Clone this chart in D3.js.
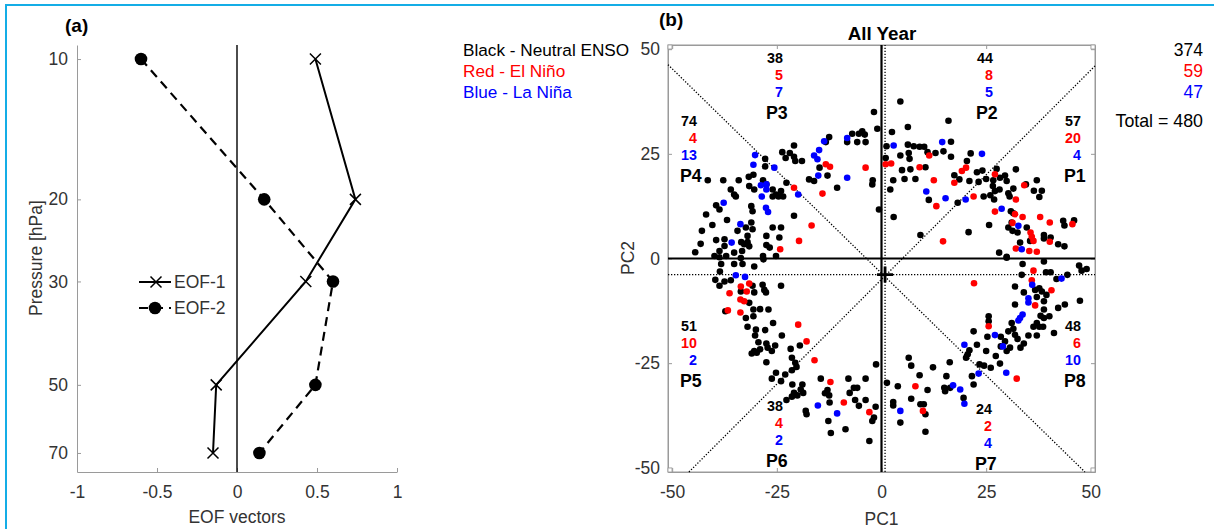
<!DOCTYPE html>
<html>
<head>
<meta charset="utf-8">
<script src="https://cdn.jsdelivr.net/npm/d3@7"></script>
<style>
body { margin: 0; background: #fff; }
text { font-family: "Liberation Sans", Arial, sans-serif; }
</style>
</head>
<body>
<svg id="fig" width="1214" height="529"></svg>
<script>
// ---- panel (a) data: EOF vectors against pressure
const levels = [10, 20, 30, 50, 70];
const eof1 = [0.49, 0.74, 0.43, -0.13, -0.15];
const eof2 = [-0.6, 0.17, 0.6, 0.49, 0.14];
const eofTicks = [-1, -0.5, 0, 0.5, 1];

// ---- panel (b) data: PC1/PC2 scatter
const neutral = [
  [-1.8,35.0],[-1.0,31.0],[-4.6,30.4],[-4.0,29.6],[-5.4,29.8],[-5.8,27.8],[-3.8,27.8],[-7.0,29.8],[-8.2,27.8],
  [-12.5,29.0],[-13.3,27.8],[-14.8,21.7],[-12.9,19.8],[-17.3,18.9],[-16.1,18.5],[-10.6,16.9],[-2.1,18.7],[-2.2,17.7],[-0.6,11.7],
  [-20.9,27.0],[-23.7,25.4],[-21.9,25.2],[-22.9,24.0],[-20.9,24.3],[-20.6,23.3],[-19.0,23.3],
  [-27.8,23.8],[-27.8,22.0],[-31.7,19.5],[-30.6,20.0],[-34.1,18.7],[-37.8,18.7],[-41.5,18.7],[-36.0,16.5],[-35.2,15.3],[-34.8,14.8],
  [-31.6,17.3],[-30.4,16.5],[-28.3,18.7],[-27.5,17.7],[-26.0,16.5],[-25.2,15.3],[-24.0,16.1],[-26.0,14.8],[-24.6,14.8],[-23.5,14.8],[-22.7,18.1],
  [-39.5,12.7],[-38.7,11.7],[-41.9,10.5],[-31.1,12.5],[-30.8,11.3],[-20.9,10.2],
  [-31.1,8.6],[-32.4,7.4],[-34.4,6.6],[-30.8,7.0],[-32.0,5.4],[-42.9,6.6],
  [-39.5,4.4],[-37.5,4.6],[-37.5,3.0],[-38.7,1.8],[-33.5,3.9],[-32.8,3.4],[-32.0,3.9],[-31.6,2.9],[-33.3,1.8],[-35.2,1.4],
  [-39.9,0.6],[-37.1,0.6],[-27.5,5.4],[-26.0,7.4],[-24.0,7.4],[-24.4,5.0],[-27.5,3.2],[-26.7,2.6],[-28.3,0.6],[-25.2,0.6],
  [-36.9,9.2],[-40.4,8.0],[-43.2,3.5],[-44.5,1.5],
  [4.5,37.5],[16.0,32.9],[2.5,30.2],[6.3,31.4],[1.2,26.8],[1.0,24.0],
  [6.3,27.2],[7.7,26.8],[9.1,26.7],[10.2,26.7],[11.0,25.4],[12.9,25.2],[14.8,25.6],[16.6,27.9],[16.6,24.3],
  [4.5,24.6],[6.5,25.2],[6.7,23.8],[4.9,21.1],[6.9,21.3],[8.1,19.0],[5.5,19.0],[2.8,18.7],[2.1,16.5],
  [10.5,21.8],[11.3,14.0],[2.9,9.9],[9.3,5.6],[20.8,6.3],
  [17.4,19.9],[18.6,18.9],[20.4,23.3],[21.3,25.1],[18.2,13.3],
  [22.8,20.6],[24.1,21.0],[21.0,18.5],[23.2,18.3],[25.0,19.0],[26.0,15.1],[24.4,14.8],[26.9,14.1],
  [27.5,21.4],[28.3,19.3],[26.7,18.7],[26.6,17.3],[27.1,16.1],[28.2,16.5],[29.5,19.8],[29.9,18.5],[30.3,15.6],[30.6,14.8],[32.1,21.3],[31.5,16.7],
  [25.7,8.0],[34.5,17.7],[37.1,18.7],[36.4,16.2],[38.3,16.2],[37.7,14.7],
  [30.9,11.3],[31.5,10.8],[31.1,8.6],[30.3,7.4],[31.3,6.6],[32.5,6.2],[34.7,7.4],[35.5,4.2],[33.1,3.8],
  [38.8,5.6],[38.8,4.8],[40.4,5.0],[42.2,3.4],[43.7,2.9],[43.4,9.0],[43.7,7.9],[46.0,9.1],[28.1,1.4],[29.9,0.4],
  [-38.7,0.3],[-33.6,0.1],[-28.2,-0.2],[-35.2,-1.3],[-38.3,-1.3],[-33.2,-1.3],[-30.4,-1.9],
  [-38.6,-3.1],[-39.7,-5.1],[-38.7,-6.5],[-37.5,-5.5],[-36.0,-5.2],[-33.6,-7.9],
  [-30.8,-6.5],[-30.4,-8.1],[-28.4,-6.3],[-28.0,-7.5],[-27.6,-8.1],[-24.0,-6.5],
  [-37.3,-12.6],[-31.6,-10.6],[-30.6,-12.2],[-29.0,-12.1],[-27.0,-12.2],[-32.4,-14.2],[-30.6,-13.8],[-32.0,-16.3],
  [-30.0,-17.0],[-30.2,-18.4],[-27.8,-17.1],[-25.9,-15.4],[-23.8,-18.4],[-30.4,-22.1],[-31.0,-22.7],[-29.8,-22.5],[-29.0,-21.7],
  [-29.4,-20.0],[-27.5,-20.3],[-27.2,-21.3],[-25.4,-20.8],[-26.2,-22.1],[-27.5,-24.8],
  [-21.7,-21.6],[-21.4,-23.7],[-19.5,-20.8],[-20.6,-24.9],[-20.3,-25.9],[-21.4,-26.7],[-23.0,-27.7],[-25.2,-27.3],[-26.2,-28.7],
  [-24.0,-29.3],[-21.3,-30.1],[-18.9,-30.1],[-19.3,-31.3],[-20.9,-32.1],[-21.4,-33.0],[-22.7,-33.8],[-20.1,-32.7],[-18.7,-32.1],
  [-14.5,-28.7],[-12.9,-31.4],[-13.5,-32.2],[-12.5,-32.7],[-12.4,-34.4],[-18.1,-36.4],[-17.9,-37.2],[-12.7,-38.8],[-12.1,-41.7],
  [-8.6,-40.8],[-7.9,-28.7],[-6.6,-30.9],[-5.8,-30.9],[-7.6,-32.1],[-3.8,-28.7],[-6.3,-33.8],[-3.8,-33.8],[-5.4,-35.2],
  [-1.4,-35.4],[-1.8,-38.0],[-2.2,-38.8],[-2.9,-43.6],[-1.3,-25.3],
  [29.9,0.2],[33.7,-1.3],[33.5,-3.9],[38.8,-0.7],[39.3,-3.3],[40.4,-3.3],[41.8,-4.9],[44.4,-3.9],[47.2,-1.7],[47.8,-2.9],[49.0,-2.5],
  [31.9,-6.7],[34.0,-8.1],[36.7,-7.5],[37.7,-7.1],[38.3,-7.9],[39.4,-8.7],[37.1,-9.2],[38.8,-10.2],[47.4,-10.1],[43.8,-11.0],[42.2,-11.8],
  [38.8,-12.2],[38.0,-13.7],[38.8,-14.2],[40.1,-13.8],[37.1,-15.4],[36.3,-16.3],[37.7,-16.3],[38.6,-16.3],[35.1,-18.4],[37.1,-18.4],[41.2,-17.8],
  [31.9,-11.0],[31.1,-15.4],[31.5,-16.8],[30.3,-17.4],[31.9,-18.2],[32.5,-19.2],[34.0,-20.3],[33.2,-21.3],[30.7,-21.3],[29.9,-22.1],
  [25.6,-13.8],[25.6,-15.0],[25.3,-18.7],[28.5,-18.7],[28.5,-21.0],[29.5,-19.8],[27.3,-23.3],[25.0,-22.1],[28.3,-25.1],[26.1,-26.1],[24.5,-25.6],
  [22.0,-17.4],[21.0,-21.9],[20.6,-22.9],[22.8,-20.6],[20.2,-23.7],[23.4,-25.3],[22.0,-30.1],[21.6,-28.1],
  [16.3,-24.8],[15.5,-28.1],[15.0,-30.9],[15.2,-31.7],[16.4,-30.9],[12.3,-26.0],[11.0,-31.4],[9.1,-27.9],[7.1,-25.6],[6.5,-23.7],
  [7.1,-33.5],[9.3,-34.8],[10.1,-34.8],[10.5,-37.2],[10.5,-41.4],[4.5,-39.2],[2.8,-35.1],[2.8,-34.3],[3.9,-30.5],[1.3,-29.7],[19.6,-33.3]
];
const elNino = [
  [-13.3,22.5],[-12.3,21.9],[-14.1,15.5],[-3.8,21.7],[-20.9,16.9],[-24.2,2.2],[-19.7,4.2],[-16.7,7.9],
  [1.0,22.5],[2.3,22.7],[11.4,24.6],[9.1,21.8],[12.5,18.7],[13.1,12.5],[14.7,4.1],[19.2,20.9],[20.2,21.7],[17.4,18.1],
  [22.0,14.8],[27.1,20.1],[27.1,11.2],[34.1,17.5],[32.1,14.1],[31.9,10.6],[33.7,9.9],[31.3,8.5],[35.6,6.2],[35.9,5.2],
  [36.3,4.2],[32.1,2.4],[35.3,1.8],[37.1,1.6],[37.9,9.9],[40.2,8.6],[45.6,8.2],[40.2,4.0],
  [-33.6,-6.7],[-31.6,-6.0],[-32.2,-7.9],[-36.3,-8.3],[-33.7,-9.8],[-32.8,-10.2],[-36.7,-12.4],[-33.7,-12.9],
  [-19.9,-15.8],[-17.9,-19.8],[-16.0,-24.3],[-12.2,-29.5],[-9.0,-34.4],[-2.9,-36.7],
  [36.3,-2.9],[35.9,-5.2],[40.6,-7.6],[22.1,-5.9],[36.7,-11.2],[25.6,-16.2],[32.3,-28.7],[8.1,-30.5],[9.9,-36.4]
];
const laNina = [
  [-8.2,28.8],[-13.7,28.0],[-14.9,25.9],[-16.1,24.6],[-15.3,23.7],[-15.1,19.8],[-8.2,19.3],[-30.2,24.7],[-30.6,22.4],
  [-25.6,21.7],[-28.8,17.5],[-27.5,17.7],[-27.5,16.5],[-28.6,14.8],[-19.9,15.3],[-37.7,13.3],[-27.6,12.1],[-27.1,11.1],
  [-33.7,8.2],[-35.8,3.8],
  [2.9,27.0],[14.5,27.8],[10.7,16.0],[15.3,14.4],[24.0,25.0],[20.1,14.1],[28.7,11.9],[32.7,7.8],[33.5,2.2],
  [-34.8,-4.0],[-32.6,-4.4],[-15.2,-35.1],[-10.6,-37.0],
  [43.0,-4.8],[36.0,-6.3],[35.1,-9.5],[35.1,-10.5],[33.7,-13.4],[33.1,-14.2],[32.7,-14.8],[27.1,-18.3],[29.0,-21.0],
  [19.8,-20.6],[23.2,-27.5],[29.8,-27.3],[17.1,-30.3],[18.8,-31.3],[19.8,-34.7],[4.5,-36.4]
];
const pcTicks = [-50, -25, 0, 25, 50];
const pcCenter = [0.85, -3.85];
const diagA = [[-51, 46.3], [48.6, -51]];
const diagB = [[-46, -51], [51, 46]];

// sector counts
const sectors = ['P1', 'P2', 'P3', 'P4', 'P5', 'P6', 'P7', 'P8'];
const countNeutral = [57, 44, 38, 74, 51, 38, 24, 48];
const countNino = [20, 8, 5, 4, 10, 4, 2, 6];
const countNina = [4, 5, 7, 13, 2, 2, 4, 10];
const totals = [374, 59, 47];
const totalAll = 480;

// where each sector's text block sits (right edge of numbers, first baseline)
const sectorAnchor = [[1081, 126], [993, 63], [783, 63], [697, 126], [697, 331], [783, 411], [992, 414], [1081, 331]];

const axisGray = '#9a9a9a';
const textGray = '#333';
const labelSize = 17.5;
const svg = d3.select('#fig');

// figure frame
svg.append('rect')
  .attr('x', 6).attr('y', 5)
  .attr('width', 1230).attr('height', 540)
  .attr('fill', 'none')
  .attr('stroke', '#14ade6')
  .attr('stroke-width', 2);

let styleAxis = function(g) {
  g.selectAll('path, line').attr('stroke', axisGray);
  g.selectAll('text').attr('font-size', labelSize).attr('fill', textGray)
    .style('font-family', '"Liberation Sans", Arial, sans-serif');
};

// ===== panel (a)
const xA = d3.scaleLinear().domain([-1, 1]).range([77, 397]);
const yA = d3.scaleLog().domain([9.33, 76.9]).range([45, 472]);
const gA = svg.append('g');

gA.append('g')
  .attr('transform', 'translate(0,472)')
  .call(d3.axisBottom(xA).tickValues(eofTicks).tickFormat(d => String(d))
    .tickSizeInner(-4).tickSizeOuter(0).tickPadding(14))
  .call(styleAxis);

gA.append('g')
  .attr('transform', 'translate(77,0)')
  .call(d3.axisLeft(yA).tickValues(levels).tickFormat(d => String(d))
    .tickSizeInner(-4).tickSizeOuter(0).tickPadding(9))
  .call(styleAxis);

gA.append('line')
  .attr('x1', xA(0)).attr('x2', xA(0))
  .attr('y1', 45).attr('y2', 472)
  .attr('stroke', '#000').attr('stroke-width', 1.4);

const eofLine = d3.line().x(d => xA(d[0])).y(d => yA(d[1]));
const eof1Pts = eof1.map((v, i) => [v, levels[i]]);
const eof2Pts = eof2.map((v, i) => [v, levels[i]]);

gA.append('path').attr('d', eofLine(eof2Pts))
  .attr('fill', 'none').attr('stroke', '#000').attr('stroke-width', 2.2)
  .attr('stroke-dasharray', '9,6');
gA.append('path').attr('d', eofLine(eof1Pts))
  .attr('fill', 'none').attr('stroke', '#000').attr('stroke-width', 2);

let crossPath = (x, y, s) => `M${x - s},${y - s}L${x + s},${y + s}M${x - s},${y + s}L${x + s},${y - s}`;

gA.selectAll('.eof1-mark')
  .data(eof1Pts)
  .join('path')
  .attr('class', 'eof1-mark')
  .attr('d', d => crossPath(xA(d[0]), yA(d[1]), 5.5))
  .attr('stroke', '#000').attr('stroke-width', 1.5);

gA.selectAll('.eof2-mark')
  .data(eof2Pts)
  .join('circle')
  .attr('class', 'eof2-mark')
  .attr('cx', d => xA(d[0])).attr('cy', d => yA(d[1]))
  .attr('r', 6.3).attr('fill', '#000');

// legend
const legA = gA.append('g');
legA.append('line').attr('x1', 139).attr('x2', 171).attr('y1', 282).attr('y2', 282)
  .attr('stroke', '#000').attr('stroke-width', 2);
legA.append('path').attr('d', crossPath(156, 282, 5.5)).attr('stroke', '#000').attr('stroke-width', 1.5);
legA.append('text').attr('x', 174).attr('y', 288).attr('font-size', labelSize).attr('fill', textGray).text('EOF-1');
legA.append('line').attr('x1', 139).attr('x2', 171).attr('y1', 308).attr('y2', 308)
  .attr('stroke', '#000').attr('stroke-width', 2.2).attr('stroke-dasharray', '9,6');
legA.append('circle').attr('cx', 155).attr('cy', 308).attr('r', 6.3).attr('fill', '#000');
legA.append('text').attr('x', 174).attr('y', 314).attr('font-size', labelSize).attr('fill', textGray).text('EOF-2');

gA.append('text').attr('x', 65).attr('y', 32)
  .attr('font-size', 19).attr('font-weight', 'bold').attr('fill', '#000').text('(a)');
gA.append('text').attr('transform', 'translate(42,258) rotate(-90)')
  .attr('text-anchor', 'middle').attr('font-size', labelSize).attr('fill', textGray).text('Pressure [hPa]');
gA.append('text').attr('x', xA(0)).attr('y', 523)
  .attr('text-anchor', 'middle').attr('font-size', labelSize).attr('fill', textGray).text('EOF vectors');

// ===== panel (b)
const xB = d3.scaleLinear().domain([-51, 51]).range([668, 1095]);
const yB = d3.scaleLinear().domain([-51, 51]).range([472, 45]);
const gB = svg.append('g');

gB.append('rect')
  .attr('x', xB(-51)).attr('y', yB(51))
  .attr('width', xB(51) - xB(-51)).attr('height', yB(-51) - yB(51))
  .attr('fill', '#fff').attr('stroke', axisGray).attr('stroke-width', 1);

gB.append('g').attr('transform', `translate(0,${yB(-51)})`)
  .call(d3.axisBottom(xB).tickValues(pcTicks).tickFormat(d => String(d))
    .tickSizeInner(-4).tickSizeOuter(0).tickPadding(14))
  .call(styleAxis);
gB.append('g').attr('transform', `translate(0,${yB(51)})`)
  .call(d3.axisTop(xB).tickValues(pcTicks).tickFormat('').tickSizeInner(-4).tickSizeOuter(0))
  .call(styleAxis);
gB.append('g').attr('transform', `translate(${xB(-51)},0)`)
  .call(d3.axisLeft(yB).tickValues(pcTicks).tickFormat(d => String(d))
    .tickSizeInner(-4).tickSizeOuter(0).tickPadding(8))
  .call(styleAxis);
gB.append('g').attr('transform', `translate(${xB(51)},0)`)
  .call(d3.axisRight(yB).tickValues(pcTicks).tickFormat('').tickSizeInner(-4).tickSizeOuter(0))
  .call(styleAxis);

// little corner boxes
[[-51, 51], [51, 51], [-51, -51], [51, -51]].forEach(c => {
  gB.append('rect')
    .attr('x', xB(c[0]) - (c[0] > 0 ? 4 : 0)).attr('y', yB(c[1]) - (c[1] < 0 ? 4 : 0))
    .attr('width', 4).attr('height', 4)
    .attr('fill', '#fff').attr('stroke', axisGray).attr('stroke-width', 0.8);
});

// dotted guide lines
const dotted = gB.append('g')
  .attr('stroke', '#000').attr('stroke-width', 1.3).attr('stroke-dasharray', '1.3,1.7').attr('fill', 'none');
dotted.append('line').attr('x1', xB(-51)).attr('x2', xB(51))
  .attr('y1', yB(pcCenter[1])).attr('y2', yB(pcCenter[1]));
dotted.append('line').attr('y1', yB(-51)).attr('y2', yB(51))
  .attr('x1', xB(pcCenter[0])).attr('x2', xB(pcCenter[0]));
[diagA, diagB].forEach(seg => {
  dotted.append('line')
    .attr('x1', xB(seg[0][0])).attr('y1', yB(seg[0][1]))
    .attr('x2', xB(seg[1][0])).attr('y2', yB(seg[1][1]));
});

// zero axes
gB.append('line').attr('x1', xB(-51)).attr('x2', xB(51)).attr('y1', yB(0)).attr('y2', yB(0))
  .attr('stroke', '#000').attr('stroke-width', 2.2);
gB.append('line').attr('y1', yB(-51)).attr('y2', yB(51)).attr('x1', xB(0)).attr('x2', xB(0))
  .attr('stroke', '#000').attr('stroke-width', 2.2);

// scatter
let drawDots = function(pts, color, cls) {
  gB.selectAll('.' + cls)
    .data(pts)
    .join('circle')
    .attr('class', cls)
    .attr('cx', d => xB(d[0])).attr('cy', d => yB(d[1]))
    .attr('r', 3.3).attr('fill', color);
};
drawDots(neutral, '#000', 'dot-neutral');
drawDots(elNino, '#ff0000', 'dot-nino');
drawDots(laNina, '#0000ff', 'dot-nina');

// centre marker
const cx = xB(pcCenter[0]), cy = yB(pcCenter[1]);
gB.append('path').attr('d', `M${cx - 8},${cy}H${cx + 8}M${cx},${cy - 8}V${cy + 8}`)
  .attr('stroke', '#000').attr('stroke-width', 2.8);

// sector counts
sectors.forEach((p, i) => {
  const [ax, ay] = sectorAnchor[i];
  const vals = [[countNeutral[i], '#000'], [countNino[i], '#ff0000'], [countNina[i], '#0000ff']];
  vals.forEach((v, j) => {
    gB.append('text').attr('x', ax).attr('y', ay + 17 * j)
      .attr('text-anchor', 'end').attr('font-size', 14.3).attr('font-weight', 'bold')
      .attr('fill', v[1]).text(v[0]);
  });
  gB.append('text').attr('x', ax - 17).attr('y', ay + 56)
    .attr('font-size', 17.8).attr('font-weight', 'bold').attr('fill', '#000').text(p);
});

gB.append('text').attr('x', 882).attr('y', 40)
  .attr('text-anchor', 'middle').attr('font-size', 18.8).attr('font-weight', 'bold').attr('fill', '#000').text('All Year');
gB.append('text').attr('x', 659).attr('y', 26)
  .attr('font-size', 19).attr('font-weight', 'bold').attr('fill', '#000').text('(b)');
gB.append('text').attr('transform', 'translate(634,258) rotate(-90)')
  .attr('text-anchor', 'middle').attr('font-size', labelSize).attr('fill', textGray).text('PC2');
gB.append('text').attr('x', xB(0)).attr('y', 525)
  .attr('text-anchor', 'middle').attr('font-size', labelSize).attr('fill', textGray).text('PC1');

// colour key and totals
const keyLabels = ['Black - Neutral ENSO', 'Red - El Niño', 'Blue - La Niña'];
const keyColors = ['#000', '#ff0000', '#0000ff'];
keyLabels.forEach((t, i) => {
  svg.append('text').attr('x', 463).attr('y', 56 + 21 * i)
    .attr('font-size', 17.2).attr('fill', keyColors[i]).text(t);
  svg.append('text').attr('x', 1203).attr('y', 56 + 21 * i)
    .attr('text-anchor', 'end').attr('font-size', 17.5).attr('fill', keyColors[i]).text(totals[i]);
});
svg.append('text').attr('x', 1203).attr('y', 127)
  .attr('text-anchor', 'end').attr('font-size', 17.8).attr('fill', '#000').text('Total = ' + totalAll);
</script>
</body>
</html>
